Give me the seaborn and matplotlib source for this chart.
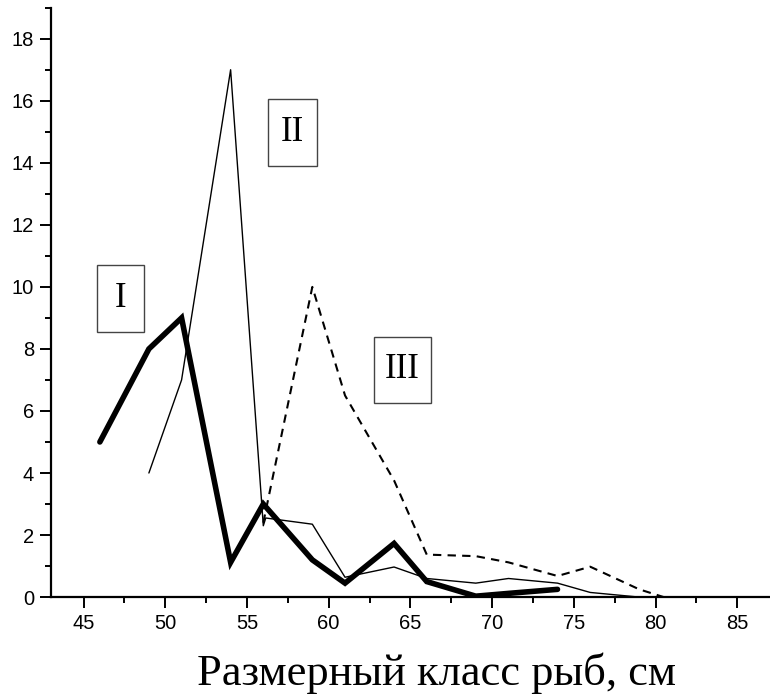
import matplotlib
matplotlib.use("Agg")
import matplotlib.pyplot as plt
import seaborn as sns
import pandas as pd
from matplotlib.patches import Rectangle
from matplotlib.ticker import MultipleLocator

sns.set_style("white")
plt.rcParams['font.family'] = ['Liberation Sans', 'DejaVu Sans']

# Series I (thick solid)
x_one = [46, 49, 51, 54, 56, 59, 61, 64, 66, 69, 71, 74]
y_one = [5.0, 8.0, 9.0, 1.12, 3.0, 1.2, 0.45, 1.73, 0.5, 0.03, 0.12, 0.25]

# Series II (thin solid)
x_two = [49, 51, 54, 56, 56.15, 59, 61, 64, 66, 69, 71, 74, 76, 79]
y_two = [4.0, 7.0, 17.0, 2.3, 2.55, 2.35, 0.64, 0.97, 0.6, 0.45, 0.6, 0.45, 0.15, 0.0]

# Series III (dashed)
x_three = [56, 59, 61, 64, 66, 69, 71, 74, 76, 79, 80.5]
y_three = [2.4, 10.0, 6.5, 3.76, 1.37, 1.32, 1.12, 0.68, 0.98, 0.25, 0.0]

# label boxes: (text, x0, x1, y0, y1) in data units
box_labels = ["I", "II", "III"]
box_x = [(45.8, 48.7), (56.3, 59.3), (62.75, 66.25)]
box_y = [(8.55, 10.7), (13.9, 16.05), (6.25, 8.4)]

fig = plt.figure(figsize=(7.7, 7.0), dpi=100)
ax = fig.add_axes([0.066, 0.147, 0.934, 0.842])

df1 = pd.DataFrame({"x": x_one, "y": y_one})
df2 = pd.DataFrame({"x": x_two, "y": y_two})
df3 = pd.DataFrame({"x": x_three, "y": y_three})

sns.lineplot(data=df1, x="x", y="y", ax=ax, color="black", linewidth=4.0,
             sort=False, solid_capstyle="round", solid_joinstyle="miter", zorder=4)
sns.lineplot(data=df2, x="x", y="y", ax=ax, color="black", linewidth=1.0,
             sort=False, zorder=3)
sns.lineplot(data=df3, x="x", y="y", ax=ax, color="black", linewidth=1.5,
             sort=False, zorder=3)
ax.lines[-1].set_dashes([4, 3])

for lab, (x0, x1), (y0, y1) in zip(box_labels, box_x, box_y):
    ax.add_patch(Rectangle((x0, y0), x1 - x0, y1 - y0, fill=False,
                           edgecolor="#444444", linewidth=1.0, zorder=5))
    ax.text((x0 + x1) / 2, (y0 + y1) / 2, lab, ha="center", va="center",
            fontsize=25, color="black", family=["Liberation Serif"], zorder=6)

ax.set_xlim(43, 87)
ax.set_ylim(0, 19)
ax.xaxis.set_major_locator(MultipleLocator(5))
ax.xaxis.set_minor_locator(MultipleLocator(2.5))
ax.yaxis.set_major_locator(MultipleLocator(2))
ax.yaxis.set_minor_locator(MultipleLocator(1))

ax.spines["top"].set_visible(False)
ax.spines["right"].set_visible(False)
for side in ["left", "bottom"]:
    ax.spines[side].set_linewidth(1.6)
    ax.spines[side].set_color("black")

ax.tick_params(which="major", direction="out", length=8, width=1.4,
               labelsize=14.5, left=True, bottom=True, pad=4,
               color="black", labelcolor="black")
ax.tick_params(which="minor", direction="out", length=4, width=1.4,
               left=True, bottom=True, color="black")

ax.set_xlabel("")
ax.set_ylabel("")

fig.text(0.567, 0.008, "Размерный класс рыб, см", ha="center", va="bottom",
         fontsize=32, color="black", family=["Liberation Serif"])

fig.savefig("out.png", dpi=100)
plt.close(fig)
